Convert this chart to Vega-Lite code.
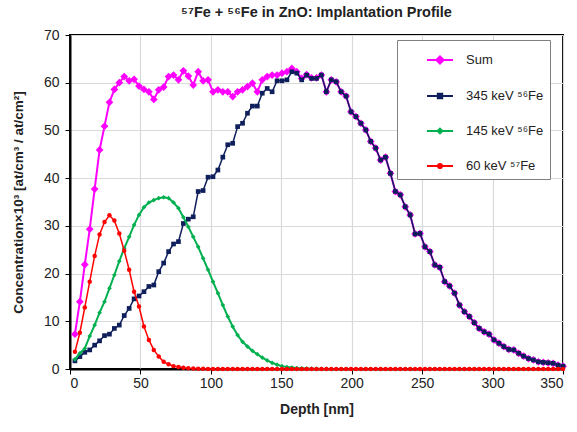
{
  "$schema": "https://vega.github.io/schema/vega-lite/v6.json",
  "width": 493,
  "height": 334,
  "autosize": {"type": "none"},
  "padding": {"left": 70, "top": 35, "right": 14, "bottom": 63},
  "background": "white",
  "title": {"text": "⁵⁷Fe + ⁵⁶Fe in ZnO: Implantation Profile", "font": "Liberation Sans", "fontSize": 14.5, "fontWeight": "bold", "color": "#222", "anchor": "middle", "offset": 8},
  "config": {
    "font": "Liberation Sans",
    "view": {"stroke": "#000", "strokeWidth": 2},
    "axis": {"gridColor": "#D9D9D9", "gridWidth": 1.2, "domainColor": "#000", "domainWidth": 2, "tickColor": "#000", "tickSize": 5, "labelFont": "Liberation Sans", "labelFontSize": 14, "labelColor": "#222", "titleFont": "Liberation Sans", "titleFontSize": 13.5, "titleFontWeight": "bold", "titleColor": "#222"}
  },
  "data": {"values": [
    {"depth":3.5,"Sum":7.3,"E345":1.7,"E145":2.0,"E60":3.6},
    {"depth":7,"Sum":14.1,"E345":2.6,"E145":3.3,"E60":7.6},
    {"depth":10.5,"Sum":21.9,"E345":3.5,"E145":4.3,"E60":12.9},
    {"depth":14,"Sum":29.3,"E345":4.0,"E145":6.9,"E60":18.3},
    {"depth":17.5,"Sum":37.7,"E345":5.0,"E145":9.2,"E60":23.7},
    {"depth":21,"Sum":45.9,"E345":5.9,"E145":11.8,"E60":28.2},
    {"depth":24.5,"Sum":50.9,"E345":7.0,"E145":14.1,"E60":30.8},
    {"depth":28,"Sum":55.9,"E345":7.3,"E145":16.9,"E60":32.2},
    {"depth":31.5,"Sum":58.6,"E345":8.5,"E145":19.7,"E60":31.1},
    {"depth":35,"Sum":60.0,"E345":9.2,"E145":22.6,"E60":28.4},
    {"depth":38.5,"Sum":61.3,"E345":11.2,"E145":25.3,"E60":24.8},
    {"depth":42,"Sum":60.4,"E345":12.7,"E145":27.7,"E60":20.8},
    {"depth":45.5,"Sum":60.7,"E345":14.7,"E145":30.2,"E60":16.2},
    {"depth":49,"Sum":59.3,"E345":15.3,"E145":32.3,"E60":13.1},
    {"depth":52.5,"Sum":58.6,"E345":16.2,"E145":33.9,"E60":8.9},
    {"depth":56,"Sum":58.1,"E345":17.3,"E145":34.9,"E60":6.1},
    {"depth":59.5,"Sum":56.5,"E345":17.6,"E145":35.4,"E60":4.0},
    {"depth":63,"Sum":58.5,"E345":20.4,"E145":35.8,"E60":2.6},
    {"depth":66.5,"Sum":59.1,"E345":22.2,"E145":36.0,"E60":1.5},
    {"depth":70,"Sum":61.3,"E345":24.6,"E145":35.8,"E60":1.0},
    {"depth":73.5,"Sum":61.6,"E345":26.2,"E145":34.9,"E60":0.6},
    {"depth":77,"Sum":60.6,"E345":26.7,"E145":33.7,"E60":0.4},
    {"depth":80.5,"Sum":62.5,"E345":30.5,"E145":31.8,"E60":0.25},
    {"depth":84,"Sum":61.4,"E345":31.4,"E145":29.8,"E60":0.15},
    {"depth":87.5,"Sum":59.5,"E345":31.9,"E145":27.7,"E60":0.1},
    {"depth":91,"Sum":62.3,"E345":37.2,"E145":25.6,"E60":0.05},
    {"depth":94.5,"Sum":60.4,"E345":37.4,"E145":23.2,"E60":0.03},
    {"depth":98,"Sum":60.6,"E345":40.2,"E145":20.8,"E60":0.02},
    {"depth":101.5,"Sum":58.1,"E345":40.3,"E145":18.3,"E60":0},
    {"depth":105,"Sum":58.5,"E345":41.7,"E145":15.9,"E60":0},
    {"depth":108.5,"Sum":58.1,"E345":44.4,"E145":13.4,"E60":0},
    {"depth":112,"Sum":58.1,"E345":47.0,"E145":11.0,"E60":0},
    {"depth":115.5,"Sum":57.1,"E345":47.3,"E145":8.9,"E60":0},
    {"depth":119,"Sum":58.1,"E345":50.8,"E145":7.1,"E60":0},
    {"depth":122.5,"Sum":58.5,"E345":51.5,"E145":5.7,"E60":0},
    {"depth":126,"Sum":59.2,"E345":53.6,"E145":4.7,"E60":0},
    {"depth":129.5,"Sum":59.9,"E345":55.1,"E145":3.8,"E60":0},
    {"depth":133,"Sum":58.1,"E345":55.1,"E145":3.1,"E60":0},
    {"depth":136.5,"Sum":60.6,"E345":57.8,"E145":2.4,"E60":0},
    {"depth":140,"Sum":61.3,"E345":58.8,"E145":1.8,"E60":0},
    {"depth":143.5,"Sum":61.6,"E345":58.1,"E145":1.3,"E60":0},
    {"depth":147,"Sum":61.6,"E345":60.4,"E145":0.9,"E60":0},
    {"depth":150.5,"Sum":62.0,"E345":60.4,"E145":0.6,"E60":0},
    {"depth":154,"Sum":62.3,"E345":60.6,"E145":0.4,"E60":0},
    {"depth":157.5,"Sum":63.0,"E345":62.3,"E145":0.3,"E60":0},
    {"depth":161,"Sum":62.3,"E345":62.0,"E145":0.2,"E60":0},
    {"depth":164.5,"Sum":60.9,"E345":60.6,"E145":0.15,"E60":0},
    {"depth":168,"Sum":61.7,"E345":61.6,"E145":0.1,"E60":0},
    {"depth":171.5,"Sum":61.0,"E345":60.9,"E145":0.06,"E60":0},
    {"depth":175,"Sum":61.0,"E345":60.9,"E145":0.04,"E60":0},
    {"depth":178.5,"Sum":61.6,"E345":61.6,"E145":0.02,"E60":0},
    {"depth":182,"Sum":58.1,"E345":58.1,"E145":0.01,"E60":0},
    {"depth":185.5,"Sum":60.6,"E345":60.6,"E145":null,"E60":0},
    {"depth":189,"Sum":60.2,"E345":60.2,"E145":null,"E60":0},
    {"depth":192.5,"Sum":58.1,"E345":58.1,"E145":null,"E60":0},
    {"depth":196,"Sum":57.2,"E345":57.2,"E145":null,"E60":0},
    {"depth":199.5,"Sum":53.9,"E345":53.9,"E145":null,"E60":0},
    {"depth":203,"Sum":52.9,"E345":52.9,"E145":null,"E60":0},
    {"depth":206.5,"Sum":51.5,"E345":51.5,"E145":null,"E60":0},
    {"depth":210,"Sum":50.1,"E345":50.1,"E145":null,"E60":0},
    {"depth":213.5,"Sum":47.7,"E345":47.7,"E145":null,"E60":0},
    {"depth":217,"Sum":46.3,"E345":46.3,"E145":null,"E60":0},
    {"depth":220.5,"Sum":43.8,"E345":43.8,"E145":null,"E60":0},
    {"depth":224,"Sum":44.4,"E345":44.4,"E145":null,"E60":0},
    {"depth":227.5,"Sum":41.0,"E345":41.0,"E145":null,"E60":0},
    {"depth":231,"Sum":37.2,"E345":37.2,"E145":null,"E60":0},
    {"depth":234.5,"Sum":36.5,"E345":36.5,"E145":null,"E60":0},
    {"depth":238,"Sum":34.0,"E345":34.0,"E145":null,"E60":0},
    {"depth":241.5,"Sum":32.3,"E345":32.3,"E145":null,"E60":0},
    {"depth":245,"Sum":28.3,"E345":28.3,"E145":null,"E60":0},
    {"depth":248.5,"Sum":28.4,"E345":28.4,"E145":null,"E60":0},
    {"depth":252,"Sum":25.6,"E345":25.6,"E145":null,"E60":0},
    {"depth":255.5,"Sum":24.6,"E345":24.6,"E145":null,"E60":0},
    {"depth":259,"Sum":21.8,"E345":21.8,"E145":null,"E60":0},
    {"depth":262.5,"Sum":21.3,"E345":21.3,"E145":null,"E60":0},
    {"depth":266,"Sum":18.3,"E345":18.3,"E145":null,"E60":0},
    {"depth":269.5,"Sum":17.4,"E345":17.4,"E145":null,"E60":0},
    {"depth":273,"Sum":15.9,"E345":15.9,"E145":null,"E60":0},
    {"depth":276.5,"Sum":13.4,"E345":13.4,"E145":null,"E60":0},
    {"depth":280,"Sum":12.0,"E345":12.0,"E145":null,"E60":0},
    {"depth":283.5,"Sum":11.0,"E345":11.0,"E145":null,"E60":0},
    {"depth":287,"Sum":9.7,"E345":9.7,"E145":null,"E60":0},
    {"depth":290.5,"Sum":8.5,"E345":8.5,"E145":null,"E60":0},
    {"depth":294,"Sum":7.8,"E345":7.8,"E145":null,"E60":0},
    {"depth":297.5,"Sum":7.3,"E345":7.3,"E145":null,"E60":0},
    {"depth":301,"Sum":6.1,"E345":6.1,"E145":null,"E60":0},
    {"depth":304.5,"Sum":5.4,"E345":5.4,"E145":null,"E60":0},
    {"depth":308,"Sum":4.7,"E345":4.7,"E145":null,"E60":0},
    {"depth":311.5,"Sum":4.1,"E345":4.1,"E145":null,"E60":0},
    {"depth":315,"Sum":4.0,"E345":4.0,"E145":null,"E60":0},
    {"depth":318.5,"Sum":3.3,"E345":3.3,"E145":null,"E60":0},
    {"depth":322,"Sum":2.7,"E345":2.7,"E145":null,"E60":0},
    {"depth":325.5,"Sum":2.2,"E345":2.2,"E145":null,"E60":0},
    {"depth":329,"Sum":1.9,"E345":1.9,"E145":null,"E60":0},
    {"depth":332.5,"Sum":1.5,"E345":1.5,"E145":null,"E60":0},
    {"depth":336,"Sum":1.4,"E345":1.4,"E145":null,"E60":0},
    {"depth":339.5,"Sum":1.3,"E345":1.3,"E145":null,"E60":0},
    {"depth":343,"Sum":1.2,"E345":1.2,"E145":null,"E60":0},
    {"depth":346.5,"Sum":0.8,"E345":0.8,"E145":null,"E60":0},
    {"depth":350,"Sum":0.6,"E345":0.6,"E145":null,"E60":0}
  ]},
  "transform": [
    {"fold": ["Sum", "E345", "E145", "E60"], "as": ["series", "conc"]},
    {"filter": "datum.conc != null"}
  ],
  "encoding": {
    "x": {"field": "depth", "type": "quantitative", "scale": {"domain": [0, 350], "nice": false},
      "axis": {"values": [0,50,100,150,200,250,300,350], "title": "Depth [nm]", "titleFontSize": 14, "labelPadding": 2, "titleY": 40, "titleBaseline": "middle", "grid": true}},
    "y": {"field": "conc", "type": "quantitative", "scale": {"domain": [0, 70], "nice": false},
      "axis": {"values": [0,10,20,30,40,50,60,70], "title": "Concentration×10³ [at/cm³ /  at/cm²]", "labelPadding": 6, "titleX": -52, "titleY": 167, "titleAngle": 270, "titleAlign": "center", "titleBaseline": "middle", "grid": true}},
    "color": {"field": "series", "type": "nominal",
      "scale": {"domain": ["Sum", "E345", "E145", "E60"], "range": ["#FF00FF", "#0F1F5C", "#00B050", "#FF0000"]},
      "legend": {
        "orient": "none", "legendX": 327, "legendY": 5, "title": null,
        "padding": 6, "rowPadding": 14, "symbolSize": 676, "symbolStrokeWidth": 2, "symbolOffset": 23, "labelOffset": 12,
        "fillColor": "white", "strokeColor": "#808080", "labelFont": "Liberation Sans", "labelFontSize": 13, "labelColor": "#222",
        "labelExpr": "datum.value === 'Sum' ? '\u00a0Sum' : datum.value === 'E345' ? '345 keV ⁵⁶Fe' : datum.value === 'E145' ? '\u00a0145 keV ⁵⁶Fe\u00a0\u00a0\u00a0\u00a0\u00a0' : '\u00a0\u00a060 keV ⁵⁷Fe'",
        "encode": {"symbols": {"update": {
          "shape": {"signal": "datum.value === 'Sum' ? 'M-1,0H1M0,-0.28L0.28,0L0,0.28L-0.28,0Z' : datum.value === 'E345' ? 'M-1,0H1M-0.17,-0.17H0.17V0.17H-0.17Z' : datum.value === 'E145' ? 'M-1,0H1M0,-0.18L0.18,0L0,0.18L-0.18,0Z' : 'M-1,0H1M-0.16,0A0.16,0.16,0,1,0,0.16,0A0.16,0.16,0,1,0,-0.16,0Z'"},
          "fill": {"scale": "color", "field": "value"},
          "stroke": {"scale": "color", "field": "value"},
          "strokeWidth": {"value": 2},
          "opacity": {"value": 1}
        }}}
      }}
  },
  "layer": [
    {"transform": [{"filter": "datum.series === 'Sum'"}], "mark": {"type": "line", "strokeWidth": 2, "point": {"shape": "diamond", "size": 60, "filled": true, "opacity": 1}}},
    {"transform": [{"filter": "datum.series === 'E345'"}], "mark": {"type": "line", "strokeWidth": 1.5, "point": {"shape": "square", "size": 22, "filled": true, "opacity": 1}}},
    {"transform": [{"filter": "datum.series === 'E145'"}], "mark": {"type": "line", "strokeWidth": 2, "point": {"shape": "diamond", "size": 22, "filled": true, "opacity": 1}}},
    {"transform": [{"filter": "datum.series === 'E60'"}], "mark": {"type": "line", "strokeWidth": 1.5, "point": {"shape": "circle", "size": 20, "filled": true, "opacity": 1}}}
  ]
}
